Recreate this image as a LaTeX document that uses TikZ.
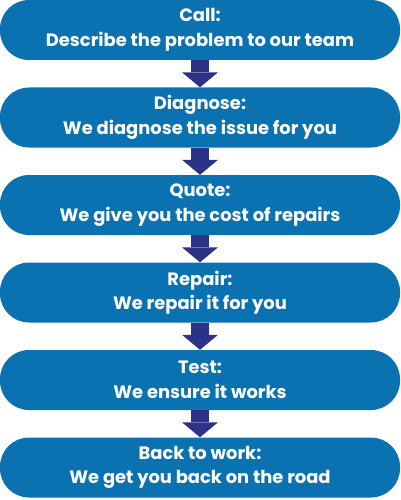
\documentclass[tikz,border=0pt]{standalone}
\usepackage{fontspec}
\setmainfont{Poppins}
\usetikzlibrary{arrows.meta}

\definecolor{stageblue}{RGB}{10,114,176}
\definecolor{arrownavy}{RGB}{44,50,136}

\begin{document}
\begin{tikzpicture}[x=1pt,y=-1pt,
  stage/.style={fill=stageblue, rounded corners=29pt, minimum width=400pt,
    minimum height=60pt, inner sep=0pt, text=white, align=center,
    font=\bfseries\fontsize{17.9}{24.5}\selectfont},
  flow/.style={draw=arrownavy, line width=18pt,
    -{Triangle[width=36pt,length=15pt,line width=0pt]}}]

\useasboundingbox (0,0) rectangle (400,500);

% Stage boxes
\draw (200,30) node [stage] (call) {Call:\\Describe the problem to our team};
\draw (200,117.5) node [stage] (diagnose) {Diagnose:\\We diagnose the issue for you};
\draw (200,205) node [stage] (quote) {Quote:\\We give you the cost of repairs};
\draw (200,292.5) node [stage] (repair) {Repair:\\We repair it for you};
\draw (200,380) node [stage] (test) {Test:\\We ensure it works};
\draw (200,467.5) node [stage] (back) {Back to work:\\We get you back on the road};

% Arrows
\draw [flow] (call.south) -- (diagnose.north);
\draw [flow] (diagnose.south) -- (quote.north);
\draw [flow] (quote.south) -- (repair.north);
\draw [flow] (repair.south) -- (test.north);
\draw [flow] (test.south) -- (back.north);

\end{tikzpicture}
\end{document}
